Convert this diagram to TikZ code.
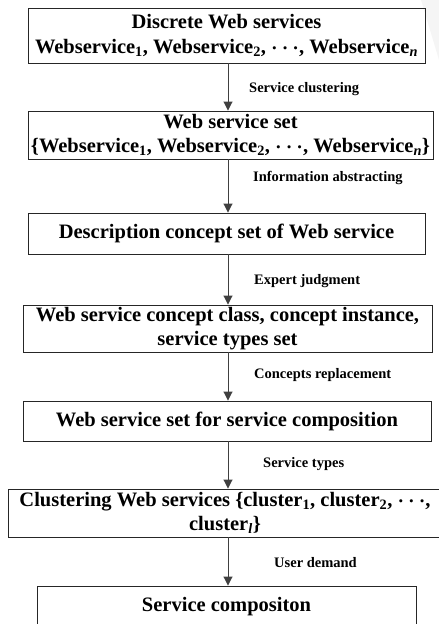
\documentclass[tikz,border=0pt]{standalone}
\usepackage{fontspec}
\setmainfont{Liberation Serif}
\usetikzlibrary{arrows.meta}
\newcommand{\sdots}{{\boldmath$\cdots$}}
\begin{document}
\begin{tikzpicture}[x=1pt,y=-1pt,
  box/.style={draw=black!85,line width=0.9pt,inner sep=0pt,align=center,
    font=\fontsize{20.5}{24.5}\selectfont\bfseries},
  lab/.style={anchor=mid west,inner sep=0pt,font=\fontsize{14.5}{17}\selectfont\bfseries},
  arr/.style={draw=black!75,line width=0.9pt,-{Triangle[width=9pt,length=9pt]}}]
\useasboundingbox (0,0) rectangle (439,624);
\fill[gray!8] (421,0) -- (439,0) -- (439,60) -- cycle;
\coordinate (ax) at (228,0);
\node[box,minimum width=397pt,minimum height=55pt] (b1) at (226.5,35.5)
  {Discrete Web services\\Webservice\textsubscript{1}, Webservice\textsubscript{2}, \sdots, Webservice\textsubscript{\textit{n}}};
\node[box,minimum width=405pt,minimum height=48pt] (b2) at (230.5,135)
  {Web service set\\\{Webservice\textsubscript{1}, Webservice\textsubscript{2}, \sdots, Webservice\textsubscript{\textit{n}}\}};
\node[box,minimum width=397pt,minimum height=41pt] (b3) at (226.5,233.5)
  {Description concept set of Web service};
\node[box,minimum width=409pt,minimum height=47pt] (b4) at (227.5,328.5)
  {Web service concept class, concept instance,\\service types set};
\node[box,minimum width=408pt,minimum height=40pt] (b5) at (227,421)
  {Web service set for service composition};
\node[box,minimum width=434pt,minimum height=48pt] (b6) at (225,513)
  {Clustering Web services \{cluster\textsubscript{1}, cluster\textsubscript{2}, \sdots,\\cluster\textsubscript{\textit{l}}\}};
\node[box,minimum width=379pt,minimum height=42pt] (b7) at (226.5,607)
  {Service compositon};
\draw[arr] (b1.south -| ax) -- (b2.north -| ax);
\draw[arr] (b2.south -| ax) -- (b3.north -| ax);
\draw[arr] (b3.south -| ax) -- (b4.north -| ax);
\draw[arr] (b4.south -| ax) -- (b5.north -| ax);
\draw[arr] (b5.south -| ax) -- (b6.north -| ax);
\draw[arr] (b6.south -| ax) -- (b7.north -| ax);
\node[lab] (l1) at (249,90) {Service clustering};
\node[lab] (l2) at (253,179) {Information abstracting};
\node[lab] (l3) at (254,282) {Expert judgment};
\node[lab] (l4) at (254,376) {Concepts replacement};
\node[lab] (l5) at (263,465) {Service types};
\node[lab] (l6) at (274,565) {User demand};
\end{tikzpicture}
\end{document}
